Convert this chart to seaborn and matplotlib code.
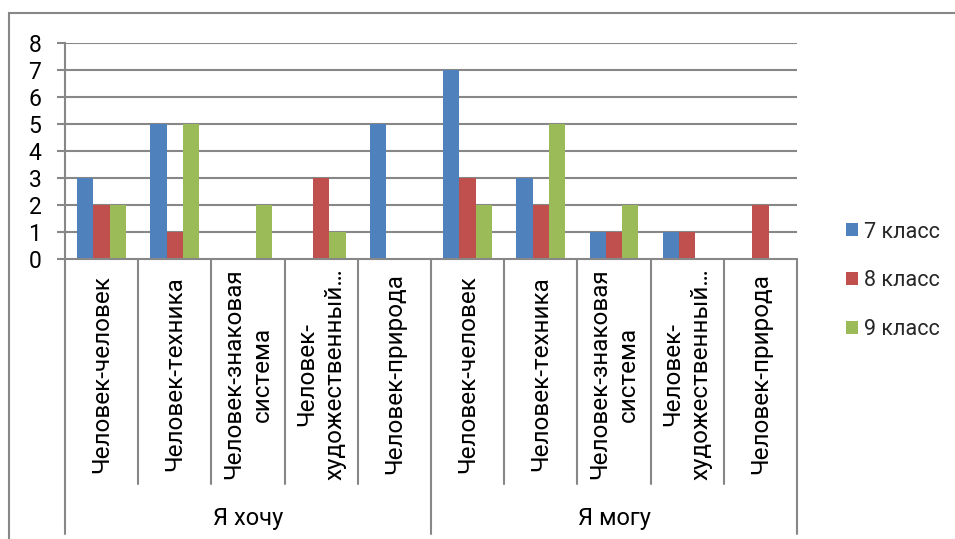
import matplotlib
matplotlib.use("Agg")
import matplotlib.pyplot as plt
from matplotlib.patches import Patch, Rectangle
from matplotlib.lines import Line2D
import matplotlib.transforms as mtransforms
import seaborn as sns
import pandas as pd

groups = ["Я хочу", "Я могу"]
categories = ["Человек-человек", "Человек-техника", "Человек-знаковая\nсистема",
              "Человек-\nхудожественный…", "Человек-природа"]
series = ["7 класс", "8 класс", "9 класс"]
want_7 = [3, 5, 0, 0, 5]
want_8 = [2, 1, 0, 3, 0]
want_9 = [2, 5, 2, 1, 0]
can_7 = [7, 3, 1, 1, 0]
can_8 = [3, 2, 1, 1, 2]
can_9 = [2, 5, 2, 0, 0]
colors = ["#4F81BD", "#C0504D", "#9BBB59"]
y_ticks = [0, 1, 2, 3, 4, 5, 6, 7, 8]

vals = {"Я хочу": [want_7, want_8, want_9], "Я могу": [can_7, can_8, can_9]}
rows = []
keys = []
for g in groups:
    for ci, c in enumerate(categories):
        k = f"{g}|{c}"
        keys.append(k)
        for si, s in enumerate(series):
            rows.append({"key": k, "cls": s, "value": vals[g][si][ci]})
df = pd.DataFrame(rows)

sns.set_theme(style="white")
FONT = ["Roboto", "DejaVu Sans"]
plt.rcParams["font.family"] = FONT

W, H = 955, 539
fig = plt.figure(figsize=(W / 100, H / 100), dpi=100)
ax = fig.add_axes([65 / W, (H - 259) / H, (797 - 65) / W, 216 / H])

sns.barplot(data=df, x="key", y="value", hue="cls", order=keys, hue_order=series,
            palette=colors, saturation=1, width=0.665, linewidth=0, legend=False, ax=ax)

GRID = "#878787"
ax.set_ylim(0, 8)
ax.set_xlim(-0.5, len(keys) - 0.5)
ax.set_yticks(y_ticks)
ax.set_yticklabels([str(t) for t in y_ticks], fontsize=16.5, color="black")
for t in y_ticks[1:]:
    ax.axhline(t, color=GRID, lw=1.5, zorder=0)
ax.set_axisbelow(True)
for sp in ["top", "right"]:
    ax.spines[sp].set_visible(False)
for sp in ["left", "bottom"]:
    ax.spines[sp].set_color(GRID)
    ax.spines[sp].set_linewidth(1.5)
ax.tick_params(axis="y", direction="out", length=6, width=1.5, color=GRID, pad=11, left=True)
ax.set_xticks([])
ax.set_xlabel("")
ax.set_ylabel("")

trans = mtransforms.blended_transform_factory(ax.transData, ax.transAxes)
inner_bottom = (259 - 484) / 216
outer_bottom = (259 - 534) / 216
n = len(categories)
for i in range(len(keys) + 1):
    x = i - 0.5
    bottom = outer_bottom if i % n == 0 else inner_bottom
    ax.add_line(Line2D([x, x], [0, bottom], transform=trans, color=GRID, lw=1.5, clip_on=False))

lab_y = (259 - 374) / 216
for i, k in enumerate(keys):
    c = k.split("|")[1]
    ax.text(i, lab_y, c, transform=trans, rotation=90, ha="center", va="center",
            multialignment="center", fontsize=17.5, color="black", linespacing=1.3)

grp_y = (259 - 519) / 216
for gi, g in enumerate(groups):
    ax.text(gi * n + (n - 1) / 2, grp_y, g, transform=trans, ha="center", va="center",
            fontsize=17, color="black")

handles = [Patch(facecolor=colors[i], edgecolor="none", label=series[i]) for i in range(3)]
fig.legend(handles=handles, loc="center left", bbox_to_anchor=(835 / W, (H - 281) / H),
           frameon=False, fontsize=15.5, handlelength=0.55, handleheight=0.55,
           handletextpad=0.3, labelspacing=1.3, borderpad=0)

fig.patches.append(Rectangle((9 / W, -0.1), 1.1, (H - 13) / H + 0.1, transform=fig.transFigure,
                             fill=False, edgecolor=GRID, lw=1.5, zorder=-1))

fig.savefig("out.png", dpi=100, facecolor="white")
